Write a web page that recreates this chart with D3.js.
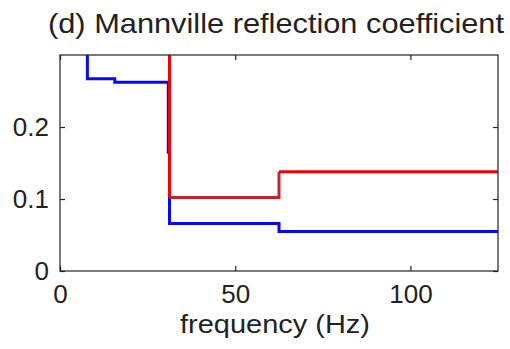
<!DOCTYPE html>
<html>
<head>
<meta charset="utf-8">
<script src="https://cdn.jsdelivr.net/npm/d3@7"></script>
<style>
  html, body { margin: 0; padding: 0; background: #fff; }
  svg { display: block; }
  text { font-family: Arial, "Liberation Sans", Helvetica, sans-serif; fill: #222; }
</style>
</head>
<body>
<svg id="chart" width="510" height="349"></svg>
<script>
// Step curves of reflection coefficient vs frequency (Hz)
const blueFreq  = [0, 7.8125, 15.625, 30.9, 31.25, 62.5, 125];
const blueValue = [0.40, 0.267, 0.262, 0.165, 0.066, 0.055, 0.055];
const redFreq   = [0, 31.25, 62.5, 125];
const redValue  = [0.40, 0.102, 0.138, 0.138];
const xTicks = [0, 50, 100];
const yTicks = [0, 0.1, 0.2];
const titleText = "(d) Mannville reflection coefficient";
const xLabel = "frequency (Hz)";

const svg = d3.select("#chart");
const L = 60, R = 498, T = 55, B = 271;

const x = d3.scaleLinear().domain([0, 125]).range([L, R]);
const y = d3.scaleLinear().domain([0, 0.3]).range([B, T]);

svg.append("defs").append("clipPath").attr("id", "plotclip")
  .append("rect").attr("x", L).attr("y", T).attr("width", R - L).attr("height", B - T);

const line = d3.line().curve(d3.curveStepAfter).x(d => x(d[0])).y(d => y(d[1]));
const g = svg.append("g").attr("clip-path", "url(#plotclip)");

const blue = blueFreq.map((f, i) => [f, blueValue[i]]);
const red = redFreq.map((f, i) => [f, redValue[i]]);

g.append("path").datum(blue).attr("d", line)
  .attr("fill", "none").attr("stroke", "#0808f4").attr("stroke-width", 3);

// red curve, its low band drawn a shade darker
const redSegs = red.slice(0, -1).map((d, i) => [d, red[i + 1]]);
redSegs.forEach((s, i) => {
  g.append("path").datum([[s[0][0], s[0][1]], [s[1][0], s[0][1]], [s[1][0], s[1][1]]])
    .attr("d", d3.line().x(d => x(d[0])).y(d => y(d[1])))
    .attr("fill", "none")
    .attr("stroke", i === 1 ? "#c0262c" : "#f00000")
    .attr("stroke-width", 3);
});

// frame
svg.append("rect").attr("x", L).attr("y", T).attr("width", R - L).attr("height", B - T)
  .attr("fill", "none").attr("stroke", "#222").attr("stroke-width", 1.2);

function styleAxis(sel) {
  sel.select(".domain").remove();
  sel.selectAll(".tick line").attr("stroke", "#222").attr("stroke-width", 1.2);
  sel.selectAll(".tick text").attr("font-size", 26).attr("fill", "#222");
}

svg.append("g").attr("transform", `translate(0,${B})`)
  .call(d3.axisBottom(x).tickValues(xTicks).tickSize(-5).tickPadding(14).tickFormat(d3.format("d")))
  .call(styleAxis);
svg.append("g").attr("transform", `translate(0,${T})`)
  .call(d3.axisTop(x).tickValues(xTicks).tickSize(-5).tickFormat(""))
  .call(styleAxis);
svg.append("g").attr("transform", `translate(${L},0)`)
  .call(d3.axisLeft(y).tickValues(yTicks).tickSize(-5).tickPadding(11).tickFormat(d => d === 0 ? "0" : d3.format(".1f")(d)))
  .call(styleAxis);
svg.append("g").attr("transform", `translate(${R},0)`)
  .call(d3.axisRight(y).tickValues(yTicks).tickSize(-5).tickFormat(""))
  .call(styleAxis);

svg.append("text").attr("x", 276).attr("y", 33).attr("text-anchor", "middle")
  .attr("font-size", 28).attr("textLength", 456).attr("lengthAdjust", "spacingAndGlyphs")
  .text(titleText);
svg.append("text").attr("x", 275).attr("y", 333).attr("text-anchor", "middle")
  .attr("font-size", 26).attr("textLength", 190).attr("lengthAdjust", "spacingAndGlyphs")
  .text(xLabel);
</script>
</body>
</html>
